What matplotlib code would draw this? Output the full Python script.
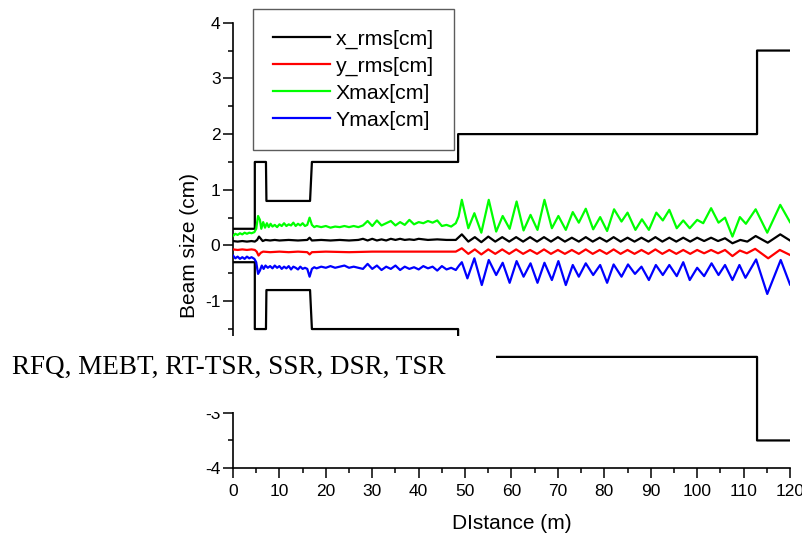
import matplotlib
matplotlib.use("Agg")
import matplotlib.pyplot as plt
from matplotlib.patches import Rectangle
from matplotlib.ticker import MultipleLocator

plt.rcParams['font.family'] = ['Liberation Sans', 'DejaVu Sans']
plt.rcParams['axes.unicode_minus'] = False

# ---------------- data ----------------
# aperture (black step outline)
ap_x = [0, 4.7, 4.7, 7.1, 7.2, 16.6, 17.0, 48.5, 48.5, 112.9, 112.9, 120]
ap_up = [0.3, 0.3, 1.5, 1.5, 0.8, 0.8, 1.5, 1.5, 2.0, 2.0, 3.5, 3.5]
ap_lo = [-0.3, -0.3, -1.5, -1.5, -0.8, -0.8, -1.5, -1.5, -2.0, -2.0, -3.5, -3.5]

# x_rms [cm]
xr_x = [0, 1, 2, 3, 4, 4.7, 5.2, 5.6, 6.0, 6.4, 7, 8, 9, 10, 12, 14, 16, 16.5, 17,
        19, 21, 23, 25, 27, 28, 29, 30, 31, 32, 33, 34, 35, 36, 37, 38, 39, 40, 42,
        44, 46, 48, 49.3, 50.7, 52.1, 53.5, 55.0, 56.5, 58.0, 59.5, 61.0, 62.5, 64.0,
        65.5, 67.0, 68.5, 70.0, 71.5, 73.0, 74.5, 76.0, 77.5, 79.0, 80.5, 82.0, 83.5,
        85.0, 86.5, 88.0, 89.5, 91.0, 92.5, 94.0, 95.5, 97.0, 98.5, 100.0, 101.5,
        103.0, 104.5, 106.0, 107.6, 109.3, 110.8, 112.6, 115.2, 117.9, 120]
xr_y = [0.08, 0.07, 0.08, 0.07, 0.08, 0.07, 0.10, 0.16, 0.12, 0.08, 0.10, 0.09, 0.10,
        0.09, 0.10, 0.09, 0.10, 0.14, 0.09, 0.10, 0.09, 0.10, 0.09, 0.10, 0.12, 0.09,
        0.12, 0.09, 0.11, 0.09, 0.12, 0.10, 0.12, 0.10, 0.11, 0.10, 0.12, 0.10, 0.11,
        0.10, 0.10, 0.20, 0.07, 0.15, 0.06, 0.16, 0.07, 0.15, 0.07, 0.15, 0.07, 0.15,
        0.07, 0.15, 0.07, 0.15, 0.07, 0.14, 0.07, 0.15, 0.07, 0.14, 0.07, 0.15, 0.07,
        0.14, 0.07, 0.14, 0.07, 0.15, 0.07, 0.14, 0.07, 0.14, 0.07, 0.14, 0.08, 0.14,
        0.08, 0.13, 0.04, 0.10, 0.07, 0.17, 0.05, 0.20, 0.09]

# y_rms [cm]
yr_x = [0, 1, 2, 3, 4, 4.7, 5.1, 5.5, 6.0, 6.5, 8, 10, 12, 14, 16, 16.5, 17, 20, 25,
        30, 35, 40, 45, 48, 49.3, 50.7, 52.1, 53.5, 55.0, 56.5, 58.0, 59.5, 61.0,
        62.5, 64.0, 65.5, 67.0, 68.5, 70.0, 71.5, 73.0, 74.5, 76.0, 77.5, 79.0, 80.5,
        82.0, 83.5, 85.0, 86.5, 88.0, 89.5, 91.0, 92.5, 94.0, 95.5, 97.0, 98.5, 100.0,
        101.5, 103.0, 104.5, 106.0, 107.6, 109.2, 110.7, 112.5, 115.3, 117.8, 120]
yr_y = [-0.07, -0.08, -0.07, -0.08, -0.07, -0.08, -0.11, -0.18, -0.13, -0.11, -0.12,
        -0.11, -0.12, -0.11, -0.12, -0.16, -0.12, -0.11, -0.12, -0.11, -0.11, -0.11,
        -0.11, -0.11, -0.05, -0.15, -0.07, -0.16, -0.07, -0.15, -0.07, -0.15, -0.07,
        -0.15, -0.08, -0.15, -0.07, -0.15, -0.08, -0.15, -0.08, -0.15, -0.07, -0.15,
        -0.08, -0.15, -0.07, -0.15, -0.08, -0.15, -0.08, -0.15, -0.07, -0.15, -0.08,
        -0.15, -0.08, -0.15, -0.08, -0.14, -0.08, -0.14, -0.08, -0.19, -0.09, -0.14,
        -0.06, -0.23, -0.08, -0.17]

# Xmax [cm]
gx_x = [0, 0.5, 1, 1.5, 2, 2.5, 3, 3.5, 4, 4.6, 5.0, 5.4, 5.8, 6.1, 6.5, 6.9, 7.3,
        7.7, 8.1, 8.5, 9, 9.5, 10, 10.5, 11, 11.5, 12, 12.5, 13, 13.5, 14, 14.5, 15,
        15.5, 16, 16.5, 17, 17.5, 18, 19, 20, 21, 22, 23, 24, 25, 26, 27, 28, 29, 30,
        31, 32, 33, 34, 35, 36, 37, 38, 39, 40, 41, 42, 43, 44, 45, 46, 47, 48, 48.6,
        49.3, 50.7, 52.0, 53.5, 55.1, 56.7, 58.1, 59.6, 61.1, 62.6, 64.1, 65.6, 67.1,
        68.7, 70.1, 71.7, 73.2, 74.5, 76.0, 77.6, 79.1, 80.6, 82.1, 83.7, 85.0, 86.7,
        88.1, 89.6, 91.2, 92.6, 94.0, 95.6, 97.0, 98.4, 100.0, 101.3, 103.0, 104.6,
        106.0, 107.6, 109.2, 110.5, 112.6, 115.1, 117.9, 120]
gx_y = [0.17, 0.21, 0.19, 0.22, 0.20, 0.23, 0.21, 0.23, 0.22, 0.24, 0.30, 0.53, 0.46,
        0.30, 0.42, 0.32, 0.40, 0.33, 0.39, 0.34, 0.37, 0.33, 0.38, 0.35, 0.40, 0.35,
        0.38, 0.36, 0.41, 0.35, 0.39, 0.36, 0.40, 0.35, 0.37, 0.50, 0.37, 0.33, 0.35,
        0.33, 0.35, 0.32, 0.34, 0.33, 0.35, 0.33, 0.35, 0.33, 0.36, 0.44, 0.35, 0.45,
        0.36, 0.40, 0.44, 0.36, 0.42, 0.37, 0.46, 0.38, 0.42, 0.40, 0.44, 0.41, 0.45,
        0.35, 0.37, 0.34, 0.40, 0.52, 0.82, 0.31, 0.58, 0.23, 0.82, 0.25, 0.53, 0.30,
        0.79, 0.27, 0.55, 0.28, 0.82, 0.31, 0.53, 0.28, 0.60, 0.41, 0.66, 0.29, 0.51,
        0.26, 0.65, 0.43, 0.59, 0.28, 0.47, 0.28, 0.59, 0.45, 0.64, 0.31, 0.45, 0.31,
        0.46, 0.40, 0.67, 0.41, 0.50, 0.16, 0.51, 0.39, 0.65, 0.23, 0.73, 0.42]

# Ymax [cm]
ym_x = [0, 0.5, 1, 1.5, 2, 2.5, 3, 3.5, 4, 4.6, 5.0, 5.4, 5.8, 6.2, 6.6, 7, 7.5, 8,
        8.5, 9, 9.5, 10, 10.5, 11, 11.5, 12, 12.5, 13, 13.5, 14, 14.5, 15, 15.5, 16,
        16.5, 17, 17.5, 18, 19, 20, 21, 22, 23, 24, 25, 26, 27, 28, 29, 30, 31, 32,
        33, 34, 35, 36, 37, 38, 39, 40, 41, 42, 43, 44, 45, 46, 47, 48, 48.7, 49.3,
        50.5, 52.0, 53.6, 55.1, 56.7, 58.1, 59.6, 61.1, 62.6, 64.1, 65.6, 67.1, 68.7,
        70.1, 71.7, 73.2, 74.5, 76.0, 77.6, 79.1, 80.6, 82.0, 83.7, 85.1, 86.6, 88.0,
        89.6, 91.1, 92.6, 94.0, 95.6, 97.0, 98.4, 100.0, 101.5, 103.1, 104.6, 106.0,
        107.6, 109.1, 110.4, 112.7, 115.1, 118.0, 120]
ym_y = [-0.18, -0.23, -0.20, -0.24, -0.21, -0.24, -0.20, -0.23, -0.21, -0.24, -0.30,
        -0.51, -0.45, -0.36, -0.42, -0.36, -0.40, -0.37, -0.41, -0.36, -0.40, -0.37,
        -0.42, -0.38, -0.41, -0.37, -0.43, -0.38, -0.40, -0.43, -0.38, -0.42, -0.40,
        -0.42, -0.56, -0.42, -0.39, -0.41, -0.38, -0.40, -0.37, -0.40, -0.38, -0.36,
        -0.40, -0.38, -0.40, -0.42, -0.33, -0.42, -0.36, -0.44, -0.38, -0.42, -0.36,
        -0.44, -0.38, -0.42, -0.39, -0.43, -0.37, -0.41, -0.38, -0.45, -0.37, -0.43,
        -0.40, -0.44, -0.36, -0.30, -0.59, -0.23, -0.71, -0.26, -0.53, -0.31, -0.67,
        -0.28, -0.56, -0.32, -0.67, -0.31, -0.62, -0.28, -0.71, -0.35, -0.56, -0.32,
        -0.53, -0.35, -0.67, -0.34, -0.56, -0.34, -0.51, -0.38, -0.62, -0.35, -0.53,
        -0.35, -0.55, -0.30, -0.62, -0.40, -0.55, -0.32, -0.53, -0.35, -0.62, -0.35,
        -0.58, -0.25, -0.87, -0.26, -0.70]

series_labels = ['x_rms[cm]', 'y_rms[cm]', 'Xmax[cm]', 'Ymax[cm]']
series_colors = ['#000000', '#FF0000', '#00FF00', '#0000FF']

x_ticks = [0, 10, 20, 30, 40, 50, 60, 70, 80, 90, 100, 110, 120]
y_ticks = [-4, -3, -2, -1, 0, 1, 2, 3, 4]
# the "-2" label is covered by the annotation box in the original
y_tick_labels = ['-4', '-3', '', '-1', '0', '1', '2', '3', '4']
annotation = 'RFQ, MEBT, RT-TSR, SSR, DSR, TSR'

# ---------------- figure ----------------
W, H = 803, 538
fig = plt.figure(figsize=(W / 100, H / 100), dpi=100)
ax = fig.add_axes([233 / W, 1 - 468.3 / H, (790 - 233) / W, (468.3 - 22.7) / H])

ax.plot(ap_x, ap_up, color='black', lw=1.6, zorder=2)
ax.plot(ap_x, ap_lo, color='black', lw=1.6, zorder=2)

handles = []
for (xs, ys), lab, col in zip([(xr_x, xr_y), (yr_x, yr_y), (gx_x, gx_y), (ym_x, ym_y)],
                              series_labels, series_colors):
    h, = ax.plot(xs, ys, color=col, lw=1.6, label=lab, zorder=3)
    handles.append(h)

ax.set_xlim(0, 120)
ax.set_ylim(-4, 4)
ax.set_xticks(x_ticks)
ax.set_yticks(y_ticks)
ax.set_yticklabels(y_tick_labels)
ax.xaxis.set_minor_locator(MultipleLocator(5))
ax.yaxis.set_minor_locator(MultipleLocator(0.5))
for s in ['top', 'right']:
    ax.spines[s].set_visible(False)
for s in ['left', 'bottom']:
    ax.spines[s].set_linewidth(1.2)
ax.tick_params(which='major', direction='out', length=7, width=1.1,
               labelsize=12.5, pad=2)
ax.tick_params(which='minor', direction='out', length=3.5, width=1.1)
ax.tick_params(axis='x', which='major', pad=4)

ax.set_xlabel('DIstance (m)', fontsize=15, labelpad=11)
ax.set_ylabel('Beam size (cm)', fontsize=15, labelpad=4)

leg = fig.legend(handles=handles, loc='upper left',
                 bbox_to_anchor=(252.7 / W, 1 - 9.3 / H), borderaxespad=0,
                 fontsize=15.3, frameon=True, fancybox=False, handlelength=2.7,
                 handletextpad=0.25, labelspacing=0.37, borderpad=0.95)
leg.get_frame().set_edgecolor('#333333')
leg.get_frame().set_linewidth(1.0)
leg.set_zorder(10)

# white box hiding part of the axis, with annotation text
rect = Rectangle((0, 1 - 411.5 / H), 496 / W, (411.5 - 336) / H,
                 transform=fig.transFigure, facecolor='white', edgecolor='none',
                 zorder=20)
fig.add_artist(rect)
fig.text(12 / W, 1 - 374 / H, annotation, fontsize=19.5,
         family=['Liberation Serif', 'DejaVu Serif'], va='baseline', ha='left',
         zorder=21)

fig.savefig('out.png', dpi=100)
